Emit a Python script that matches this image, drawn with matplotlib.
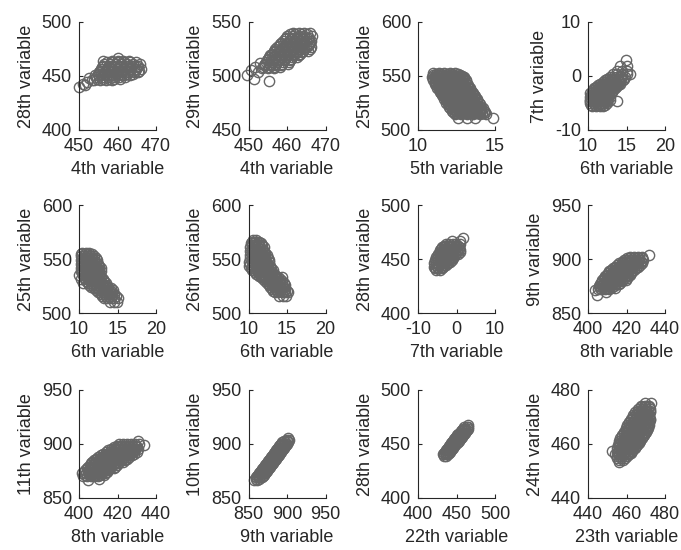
import matplotlib
matplotlib.use("Agg")
import matplotlib.pyplot as plt

plt.rcParams['font.family'] = ['Liberation Sans', 'DejaVu Sans']
plt.rcParams['axes.unicode_minus'] = False

# ---- data: each entry is (y value, [x values]) ----
# 1: 4th vs 28th
rows1 = [(440, [450]), (441.5, [451.5]), (443, [451]), (444.8, [452.2]),
         (446.3, [453.4]), (448, [452.5]),
         (446, [454, 455.5, 457, 458.5]),
         (447.5, [454.7, 456.2, 457.7, 459.2, 460.7]),
         (449, [454.5, 456, 457.5, 459, 460.5, 462]),
         (450.5, [454.2, 455.7, 457.2, 458.7, 460.2, 461.7, 463.2]),
         (452, [455, 456.5, 458, 459.5, 461, 462.5, 464]),
         (453.5, [455.2, 456.7, 458.2, 459.7, 461.2, 462.7, 464.2, 465.2]),
         (455, [455.5, 457, 458.5, 460, 461.5, 463, 464.5, 465.5]),
         (456.5, [455.7, 457.2, 458.7, 460.2, 461.7, 463.2, 464.7, 466]),
         (458, [456, 457.5, 459, 460.5, 462, 463.5, 465]),
         (459.5, [456.2, 457.7, 459.2, 460.7, 462.2, 463.7, 465.2]),
         (461, [456.5, 458, 459.5, 461, 462.5, 464, 465.9]),
         (462.5, [457.2, 458.7, 460.2, 461.7, 463.2, 464.7]),
         (464, [456.2, 458.5, 460, 461.5, 463]),
         (467, [460.2])]
# 2: 4th vs 29th
rows2 = [(495, [455.3]), (497, [451.5]), (501, [449.5]), (504, [452.5]),
         (505.5, [450.6]), (508.6, [451.8]), (512, [453]),
         (507, [453.5, 455, 456.5]),
         (508.5, [453.7, 455.2, 456.7, 458.2]),
         (510, [454, 455.5, 457, 458.5]),
         (511.5, [454.2, 455.7, 457.2, 458.7, 460.2]),
         (513, [454.5, 456, 457.5, 459, 460.5]),
         (514.5, [454.7, 456.2, 457.7, 459.2, 460.7]),
         (516, [455, 456.5, 458, 459.5, 461]),
         (517.5, [455.2, 456.7, 458.2, 459.7, 461.2, 462.5]),
         (519, [455.5, 457, 458.5, 460, 461.5, 463]),
         (520.5, [456, 457.5, 459, 460.5, 462, 463.5]),
         (522, [456.5, 458, 459.5, 461, 462.5, 464]),
         (523.5, [456.7, 458.2, 459.7, 461.2, 462.7, 464.2, 465.5]),
         (525, [457, 458.5, 460, 461.5, 463, 464.5, 466]),
         (526.5, [457.5, 459, 460.5, 462, 463.5, 465, 466.2]),
         (528, [458, 459.5, 461, 462.5, 464, 465.5]),
         (529.5, [458.2, 459.7, 461.2, 462.7, 464.2, 465.7]),
         (531, [458.5, 460, 461.5, 463, 464.5, 466]),
         (532.5, [459, 460.5, 462, 463.5, 465, 466.3]),
         (534, [459.5, 461, 462.5, 464, 465.5]),
         (535.5, [459.7, 461.2, 462.7, 464.2, 465.7]),
         (537, [460, 461.5, 463, 464.5, 466.5]),
         (538.5, [460.7, 462.2, 463.7, 465.2]),
         (540, [461.5, 463, 464.5, 466])]
# 3: 5th vs 25th
rows3 = [(553, [11.0, 11.35, 11.7, 12.05, 12.4]),
         (551.2, [10.95, 11.3, 11.65, 12.0, 12.35, 12.7]),
         (549.5, [10.9, 11.25, 11.6, 11.95, 12.3, 12.65, 13.0]),
         (547.7, [11.1, 11.45, 11.8, 12.15, 12.5, 12.85]),
         (546, [11.0, 11.35, 11.7, 12.05, 12.4, 12.75, 13.1]),
         (544.2, [11.2, 11.55, 11.9, 12.25, 12.6, 12.95]),
         (542.5, [11.1, 11.45, 11.8, 12.15, 12.5, 12.85, 13.2]),
         (540.7, [11.3, 11.65, 12.0, 12.35, 12.7, 13.05]),
         (539, [11.25, 11.6, 11.95, 12.3, 12.65, 13.0, 13.35]),
         (537.2, [11.45, 11.8, 12.15, 12.5, 12.85, 13.2]),
         (535.5, [11.4, 11.75, 12.1, 12.45, 12.8, 13.15, 13.5]),
         (533.7, [11.6, 11.95, 12.3, 12.65, 13.0, 13.35]),
         (532, [11.55, 11.9, 12.25, 12.6, 12.95, 13.3, 13.65]),
         (530.2, [11.75, 12.1, 12.45, 12.8, 13.15, 13.5]),
         (528.5, [11.7, 12.05, 12.4, 12.75, 13.1, 13.45, 13.8]),
         (526.7, [11.9, 12.25, 12.6, 12.95, 13.3, 13.65]),
         (525, [11.85, 12.2, 12.55, 12.9, 13.25, 13.6, 13.95]),
         (523.2, [12.05, 12.4, 12.75, 13.1, 13.45, 13.8]),
         (521.5, [12.0, 12.35, 12.7, 13.05, 13.4, 13.75, 14.1]),
         (519.7, [12.25, 12.6, 12.95, 13.3, 13.65, 14.0]),
         (518, [12.2, 12.55, 12.9, 13.25, 13.6, 13.95, 14.3]),
         (516.2, [12.4, 12.75, 13.1, 13.45, 13.8, 14.15]),
         (514.5, [12.4, 12.8, 13.2, 13.6, 14.0, 14.4]),
         (511, [12.6, 13.2, 13.7, 14.85]),
         (552.1, [11.17, 11.52, 11.87, 12.22, 12.57]),
         (550.4, [11.12, 11.47, 11.82, 12.17, 12.52, 12.85]),
         (548.6, [11.0, 11.35, 11.7, 12.05, 12.4, 12.75, 13.0]),
         (546.9, [11.17, 11.52, 11.87, 12.22, 12.57, 12.92]),
         (545.1, [11.1, 11.45, 11.8, 12.15, 12.5, 12.85, 13.1]),
         (543.4, [11.27, 11.62, 11.97, 12.32, 12.67, 13.02]),
         (541.6, [11.2, 11.55, 11.9, 12.25, 12.6, 12.95, 13.25]),
         (539.9, [11.42, 11.77, 12.12, 12.47, 12.82, 13.17]),
         (538.1, [11.35, 11.7, 12.05, 12.4, 12.75, 13.1, 13.4]),
         (536.4, [11.57, 11.92, 12.27, 12.62, 12.97, 13.32]),
         (534.6, [11.5, 11.85, 12.2, 12.55, 12.9, 13.25, 13.55]),
         (532.9, [11.72, 12.07, 12.42, 12.77, 13.12, 13.47]),
         (531.1, [11.65, 12.0, 12.35, 12.7, 13.05, 13.4, 13.7]),
         (529.4, [11.87, 12.22, 12.57, 12.92, 13.27, 13.62]),
         (527.6, [11.8, 12.15, 12.5, 12.85, 13.2, 13.55, 13.85]),
         (525.9, [12.02, 12.37, 12.72, 13.07, 13.42, 13.77]),
         (524.1, [11.95, 12.3, 12.65, 13.0, 13.35, 13.7, 14.0]),
         (522.4, [12.17, 12.52, 12.87, 13.22, 13.57, 13.92]),
         (520.6, [12.1, 12.45, 12.8, 13.15, 13.5, 13.85, 14.2]),
         (518.9, [12.37, 12.72, 13.07, 13.42, 13.77, 14.12]),
         (517.1, [12.3, 12.65, 13.0, 13.35, 13.7, 14.05, 14.35]),
         (515.4, [12.55, 12.9, 13.25, 13.6, 13.95, 14.3])]
# 4: 6th vs 7th
rows4 = [(-5.6, [10.5, 11.0, 11.5, 12.0]),
         (-5.3, [10.4, 10.85, 11.3, 11.75, 12.2]),
         (-5.0, [10.3, 10.75, 11.2, 11.65, 12.1, 12.5]),
         (-4.7, [10.25, 10.7, 11.15, 11.6, 12.05, 12.5]),
         (-4.4, [10.2, 10.65, 11.1, 11.55, 12.0, 12.45, 12.9]),
         (-4.1, [10.4, 10.85, 11.3, 11.75, 12.2, 12.65]),
         (-3.8, [10.2, 10.65, 11.1, 11.55, 12.0, 12.45, 12.9]),
         (-3.5, [10.4, 10.85, 11.3, 11.75, 12.2, 12.7]),
         (-3.2, [10.3, 10.75, 11.2, 11.65, 12.1, 12.55, 13.0]),
         (-2.9, [10.5, 10.95, 11.4, 11.85, 12.3, 12.75, 13.15]),
         (-2.6, [10.6, 11.05, 11.5, 11.95, 12.4, 12.85, 13.3]),
         (-2.3, [10.8, 11.25, 11.7, 12.15, 12.6, 13.05, 13.5]),
         (-2.0, [11.0, 11.45, 11.9, 12.35, 12.8, 13.25, 13.7]),
         (-1.7, [11.25, 11.7, 12.15, 12.6, 13.05, 13.5, 13.95]),
         (-1.4, [11.5, 11.95, 12.4, 12.85, 13.3, 13.75, 14.2]),
         (-1.1, [11.9, 12.35, 12.8, 13.25, 13.7, 14.2]),
         (-0.8, [12.2, 12.65, 13.1, 13.55, 14.0, 14.5]),
         (-0.5, [12.5, 12.95, 13.4, 13.85, 14.3, 14.7]),
         (-0.2, [12.8, 13.3, 13.8, 14.3, 14.8]),
         (0.4, [13.2, 13.8, 14.4, 15.0, 15.4]),
         (1.0, [13.8, 14.4, 15.0]),
         (1.8, [14.2, 15.0]),
         (3.0, [14.9]),
         (-4.6, [13.8])]
# 5: 6th vs 25th
rows5 = [(556, [10.4, 10.85, 11.3]),
         (554.2, [10.3, 10.75, 11.2, 11.65]),
         (552.5, [10.2, 10.65, 11.1, 11.55, 12.0]),
         (550.7, [10.4, 10.85, 11.3, 11.75, 12.2]),
         (549, [10.2, 10.65, 11.1, 11.55, 12.0, 12.4]),
         (547.2, [10.4, 10.85, 11.3, 11.75, 12.2]),
         (545.5, [10.2, 10.65, 11.1, 11.55, 12.0, 12.45]),
         (543.7, [10.4, 10.85, 11.3, 11.75, 12.2, 12.65]),
         (542, [10.2, 10.65, 11.1, 11.55, 12.0, 12.45, 12.9]),
         (540.2, [10.4, 10.85, 11.3, 11.75, 12.2, 12.65]),
         (538.5, [10.2, 10.65, 11.1, 11.55, 12.0, 12.45, 12.9]),
         (536.7, [10.4, 10.85, 11.3, 11.75, 12.2, 12.65]),
         (535, [10.0, 10.5, 10.95, 11.4, 11.85, 12.3, 12.75]),
         (533.2, [10.6, 11.05, 11.5, 11.95, 12.4, 12.85]),
         (531.5, [10.3, 10.8, 11.25, 11.7, 12.15, 12.6, 13.1]),
         (529.7, [10.9, 11.4, 11.85, 12.3, 12.75, 13.3]),
         (528, [10.5, 11.2, 11.65, 12.1, 12.55, 13.0, 13.5]),
         (526.2, [11.3, 11.75, 12.2, 12.65, 13.1, 13.55]),
         (524.5, [11.5, 11.95, 12.4, 12.85, 13.3, 13.75]),
         (522.7, [11.9, 12.35, 12.8, 13.25, 13.7, 14.1]),
         (521, [12.2, 12.65, 13.1, 13.55, 14.0, 14.4]),
         (519.2, [12.5, 12.95, 13.4, 13.85, 14.3]),
         (517.5, [12.8, 13.25, 13.7, 14.15, 14.6]),
         (515.7, [13.0, 13.45, 13.9, 14.35, 14.8]),
         (514, [13.2, 13.65, 14.1, 14.55, 15.0]),
         (510.5, [14.0, 14.5, 14.9])]
# 6: 6th vs 26th
rows6 = [(568, [10.6, 11.0]),
         (566.2, [10.45, 10.9, 11.35]),
         (564.5, [10.3, 10.75, 11.2, 11.6]),
         (562.7, [10.4, 10.85, 11.3, 11.75]),
         (561, [10.2, 10.65, 11.1, 11.55, 12.0]),
         (559.2, [10.4, 10.85, 11.3, 11.75]),
         (557.5, [10.2, 10.65, 11.1, 11.55, 12.0]),
         (555.7, [10.4, 10.85, 11.3, 11.75, 12.2]),
         (554, [10.2, 10.65, 11.1, 11.55, 12.0, 12.4]),
         (552.2, [10.4, 10.85, 11.3, 11.75, 12.2]),
         (550.5, [10.2, 10.65, 11.1, 11.55, 12.0, 12.5]),
         (548.7, [10.4, 10.85, 11.3, 11.75, 12.2, 12.6]),
         (547, [10.0, 10.5, 10.95, 11.4, 11.85, 12.3, 12.7]),
         (545.2, [10.25, 10.7, 11.15, 11.6, 12.05, 12.5]),
         (543.5, [10.0, 10.5, 10.95, 11.4, 11.85, 12.3, 12.75]),
         (541.7, [10.3, 10.75, 11.2, 11.65, 12.1, 12.55, 12.95]),
         (540, [10.5, 10.95, 11.4, 11.85, 12.3, 12.75, 13.2]),
         (538.2, [10.8, 11.25, 11.7, 12.15, 12.6, 13.05]),
         (536.5, [11.0, 11.45, 11.9, 12.35, 12.8, 13.25]),
         (534.7, [11.3, 11.75, 12.2, 12.65, 13.1, 13.55]),
         (533, [11.6, 12.05, 12.5, 12.95, 13.4, 13.85, 14.4]),
         (531.2, [11.85, 12.3, 12.75, 13.2, 13.65, 14.1]),
         (529.5, [12.1, 12.55, 13.0, 13.45, 13.9, 14.35]),
         (527.7, [12.35, 12.8, 13.25, 13.7, 14.15, 14.6]),
         (526, [12.6, 13.05, 13.5, 13.95, 14.4, 14.8]),
         (524.2, [12.8, 13.25, 13.7, 14.15, 14.6]),
         (522.5, [13.0, 13.45, 13.9, 14.35, 14.8]),
         (520.7, [13.2, 13.65, 14.1, 14.55, 15.0]),
         (519, [13.4, 13.85, 14.3, 14.75, 15.1]),
         (515.5, [14.0, 14.5, 14.9])]
# 7: 7th vs 28th
rows7 = [(440, [-5.3, -4.4]),
         (441.5, [-5.6, -4.7, -3.8]),
         (443, [-5.9, -5.0, -4.1, -3.4]),
         (444.5, [-5.4, -4.5, -3.6, -2.8]),
         (446, [-5.8, -4.9, -4.0, -3.1, -2.3]),
         (447.5, [-5.3, -4.4, -3.5, -2.6, -1.8]),
         (449, [-5.6, -4.7, -3.8, -2.9, -2.0, -1.2]),
         (450.5, [-5.1, -4.2, -3.3, -2.4, -1.5, -0.8]),
         (452, [-5.3, -4.4, -3.5, -2.6, -1.7, -0.8]),
         (453.5, [-4.8, -3.9, -3.0, -2.1, -1.2, -0.3]),
         (455, [-4.9, -4.0, -3.1, -2.2, -1.3, -0.4, 0.5]),
         (456.5, [-4.4, -3.5, -2.6, -1.7, -0.8, 0.1, 0.8]),
         (458, [-4.4, -3.5, -2.6, -1.7, -0.8, 0.1, 1.0]),
         (459.5, [-3.9, -3.0, -2.1, -1.2, -0.3, 0.6]),
         (461, [-3.8, -2.9, -2.0, -1.1, -0.2, 0.7]),
         (462.5, [-3.2, -2.3, -1.4, -0.5, 0.4]),
         (464, [-2.8, -1.9, -1.0, -0.1, 0.8]),
         (467, [-1.2, 1.0]),
         (469.5, [1.8])]
# 8: 8th vs 9th
rows8 = [(867, [404.7]), (869, [409.4]), (871, [403.5]),
         (872, [405, 407, 409, 411]),
         (873.5, [406, 408, 410, 412, 414]),
         (875, [405.5, 407.5, 409.5, 411.5, 413.5]),
         (876.5, [406, 408, 410, 412, 414, 416]),
         (878, [406.5, 408.5, 410.5, 412.5, 414.5, 416.5]),
         (879.5, [407.5, 409.5, 411.5, 413.5, 415.5, 417.5]),
         (881, [407.5, 409.5, 411.5, 413.5, 415.5, 417.5, 419.5]),
         (882.5, [408.5, 410.5, 412.5, 414.5, 416.5, 418.5, 420.5]),
         (884, [409, 411, 413, 415, 417, 419, 421]),
         (885.5, [410, 412, 414, 416, 418, 420, 422]),
         (887, [410.5, 412.5, 414.5, 416.5, 418.5, 420.5, 422.5]),
         (888.5, [411, 413, 415, 417, 419, 421, 423]),
         (890, [412, 414, 416, 418, 420, 422, 424]),
         (891.5, [413, 415, 417, 419, 421, 423, 425]),
         (893, [414, 416, 418, 420, 422, 424, 426]),
         (894.5, [415, 417, 419, 421, 423, 425, 427]),
         (896, [416, 418, 420, 422, 424, 426, 428]),
         (897.5, [417.5, 419.5, 421.5, 423.5, 425.5, 427.5]),
         (899, [418.5, 420.5, 422.5, 424.5, 426.5, 428.5]),
         (900.5, [420, 422, 424, 426, 428]),
         (902, [422, 424, 426, 428]),
         (904, [431.8])]
# 9: 8th vs 11th
rows9 = [(867, [404.7]), (868, [410.6]),
         (870, [402, 404, 406, 408, 410]),
         (871.5, [403, 405, 407, 409, 411, 413]),
         (873, [401.5, 403.5, 405.5, 407.5, 409.5, 411.5, 413.5]),
         (874.5, [402.5, 404.5, 406.5, 408.5, 410.5, 412.5, 414.5]),
         (876, [403, 405, 407, 409, 411, 413, 415]),
         (877.5, [404, 406, 408, 410, 412, 414, 416, 418]),
         (879, [404.5, 406.5, 408.5, 410.5, 412.5, 414.5, 416.5, 418.5]),
         (880.5, [405.5, 407.5, 409.5, 411.5, 413.5, 415.5, 417.5, 419.5]),
         (882, [406, 408, 410, 412, 414, 416, 418, 420]),
         (883.5, [407, 409, 411, 413, 415, 417, 419, 421, 423]),
         (885, [408, 410, 412, 414, 416, 418, 420, 422, 424]),
         (886.5, [409, 411, 413, 415, 417, 419, 421, 423, 425]),
         (888, [410, 412, 414, 416, 418, 420, 422, 424, 426]),
         (889.5, [411.5, 413.5, 415.5, 417.5, 419.5, 421.5, 423.5, 425.5, 427.5]),
         (891, [412.5, 414.5, 416.5, 418.5, 420.5, 422.5, 424.5, 426.5, 428.5]),
         (892.5, [414, 416, 418, 420, 422, 424, 426, 428, 430]),
         (894, [415, 417, 419, 421, 423, 425, 427, 429]),
         (895.5, [416.5, 418.5, 420.5, 422.5, 424.5, 426.5, 428.5, 430.5]),
         (897, [418, 420, 422, 424, 426, 428, 430]),
         (898.5, [419.5, 421.5, 423.5, 425.5, 427.5, 429.5]),
         (900, [421, 423, 425, 427, 429, 431]),
         (899, [434]), (903, [430.6])]
# 10: 9th vs 10th
rows10 = [(867, [857.5, 861.5]),
          (869, [859.5, 863.5, 867]),
          (871.5, [862, 866, 870]),
          (874, [864.8, 868.8, 872.8]),
          (876.5, [867.4, 871.4, 875.4]),
          (879, [870, 874, 878]),
          (881.5, [872.7, 876.7, 880.7]),
          (884, [875.3, 879.3, 883.3]),
          (886.5, [877.9, 881.9, 885.9]),
          (889, [880.5, 884.5, 888.5]),
          (891.5, [883.2, 887.2, 891.2]),
          (894, [885.8, 889.8, 893.8]),
          (896.5, [888.4, 892.4, 896.4]),
          (899, [891.1, 895.1, 899]),
          (901.5, [894, 897.7, 901]),
          (904, [899.5, 902.5]),
          (905.3, [901.7]),
          (868, [859.5, 863.5]),
          (870.2, [861, 865, 868.5]),
          (872.7, [863.5, 867.5, 871.5]),
          (875.2, [866, 870, 874]),
          (877.7, [868.7, 872.7, 876.7]),
          (880.2, [871.3, 875.3, 879.3]),
          (882.7, [874, 878, 882]),
          (885.2, [876.6, 880.6, 884.6]),
          (887.7, [879.2, 883.2, 887.2]),
          (890.2, [881.8, 885.8, 889.8]),
          (892.7, [884.5, 888.5, 892.5]),
          (895.2, [887.1, 891.1, 895.1]),
          (897.7, [889.7, 893.7, 897.7]),
          (900.2, [892.5, 896.5, 900]),
          (902.7, [896, 900])]
# 11: 22th vs 28th
rows11 = [(438.5, [433.5, 437]),
          (440.5, [432.5, 436, 439.5]),
          (443, [435, 438.5, 442]),
          (445.5, [437.7, 441.2, 444.7]),
          (448, [440.4, 443.9, 447.4]),
          (450.5, [443.1, 446.6, 450.1]),
          (453, [445.8, 449.3, 452.8]),
          (455.5, [448.5, 452, 455.5]),
          (458, [451.2, 454.7, 458.2]),
          (460.5, [453.9, 457.4, 460.9]),
          (463, [456.6, 460.1, 463.6]),
          (465.5, [460, 463, 465.5]),
          (467.5, [464.5]),
          (441.7, [433.7, 437.2, 440.7]),
          (444.2, [436.3, 439.8, 443.3]),
          (446.7, [439, 442.5, 446]),
          (449.2, [441.7, 445.2, 448.7]),
          (451.7, [444.4, 447.9, 451.4]),
          (454.2, [447.1, 450.6, 454.1]),
          (456.7, [449.8, 453.3, 456.8]),
          (459.2, [452.5, 456, 459.5]),
          (461.7, [455.2, 458.7, 462.2]),
          (464.2, [458.3, 461.5, 464.5])]
# 12: 23th vs 24th
rows12 = [(453.4, [456]),
          (455, [455, 457, 459]),
          (456.2, [454, 456, 458, 460, 461.5]),
          (457.4, [452.7, 455.5, 457.5, 459.5, 461.5, 463]),
          (458.6, [455, 457, 459, 461, 463, 464.5]),
          (459.8, [455.5, 457.5, 459.5, 461.5, 463.5, 465.5]),
          (461, [456, 458, 460, 462, 464, 466, 467]),
          (462.2, [456.5, 458.5, 460.5, 462.5, 464.5, 466.5, 468]),
          (463.4, [457.5, 459.5, 461.5, 463.5, 465.5, 467.5, 469]),
          (464.6, [458.5, 460.5, 462.5, 464.5, 466.5, 468.5, 470]),
          (465.8, [459.5, 461.5, 463.5, 465.5, 467.5, 469.5, 471]),
          (467, [460.5, 462.5, 464.5, 466.5, 468.5, 470.5, 471.5]),
          (468.2, [461.5, 463.5, 465.5, 467.5, 469.5, 471.5]),
          (469.4, [462.5, 464.5, 466.5, 468.5, 470.5, 472]),
          (470.6, [463.5, 465.5, 467.5, 469.5, 471.5]),
          (471.8, [464.5, 466.5, 468.5, 470.5, 472.3]),
          (473, [466, 468, 470, 472]),
          (474.2, [467.5, 469.5, 471.5]),
          (475.2, [469.5, 472.6]),
          (454.2, [456, 458]),
          (455.6, [455, 457, 459, 460.5]),
          (456.8, [455, 457, 459, 461, 462.5]),
          (458, [456, 458, 460, 462, 463.5]),
          (459.2, [456, 458, 460, 462, 464, 465]),
          (460.4, [456.5, 458.5, 460.5, 462.5, 464.5, 466.5]),
          (461.6, [457, 459, 461, 463, 465, 467]),
          (462.8, [457.5, 459.5, 461.5, 463.5, 465.5, 467.5, 468.5]),
          (464, [458.5, 460.5, 462.5, 464.5, 466.5, 468.5, 469.5]),
          (465.2, [459.5, 461.5, 463.5, 465.5, 467.5, 469.5, 470.5]),
          (466.4, [460.5, 462.5, 464.5, 466.5, 468.5, 470.5]),
          (467.6, [461.5, 463.5, 465.5, 467.5, 469.5, 471]),
          (468.8, [462.5, 464.5, 466.5, 468.5, 470.5, 472]),
          (470, [463.5, 465.5, 467.5, 469.5, 471.5]),
          (471.2, [465, 467, 469, 471]),
          (472.4, [466, 468, 470, 472]),
          (473.6, [467.5, 469.5, 471.5])]

all_rows = [rows1, rows2, rows3, rows4, rows5, rows6, rows7, rows8, rows9,
            rows10, rows11, rows12]
xlabels = ['4th variable', '4th variable', '5th variable', '6th variable',
           '6th variable', '6th variable', '7th variable', '8th variable',
           '8th variable', '9th variable', '22th variable', '23th variable']
ylabels = ['28th variable', '29th variable', '25th variable', '7th variable',
           '25th variable', '26th variable', '28th variable', '9th variable',
           '11th variable', '10th variable', '28th variable', '24th variable']
xticks = [[450, 460, 470], [450, 460, 470], [10, 15], [10, 15, 20],
          [10, 15, 20], [10, 15, 20], [-10, 0, 10], [400, 420, 440],
          [400, 420, 440], [850, 900, 950], [400, 450, 500], [440, 460, 480]]
yticks = [[400, 450, 500], [450, 500, 550], [500, 550, 600], [-10, 0, 10],
          [500, 550, 600], [500, 550, 600], [400, 450, 500], [850, 900, 950],
          [850, 900, 950], [850, 900, 950], [400, 450, 500], [440, 460, 480]]

# ---- figure ----
W, H = 681, 550
fig = plt.figure(figsize=(W / 100, H / 100), dpi=100)
col_left = [79, 248.5, 418, 588]
row_top = [22, 205, 390]
ax_w, ax_h = 77, 108
txt = '#262626'
mcol = '#666666'

for i in range(12):
    r, c = divmod(i, 4)
    px = [x for yv, xv in all_rows[i] for x in xv]
    py = [yv for yv, xv in all_rows[i] for x in xv]
    left = col_left[c] / W
    bottom = 1 - (row_top[r] + ax_h) / H
    ax = fig.add_axes([left, bottom, ax_w / W, ax_h / H])
    ax.plot(px, py, 'o', mfc='none', mec=mcol, ms=7.4, mew=1.0,
            clip_on=False)
    xt, yt = xticks[i], yticks[i]
    ax.set_xlim(xt[0], xt[-1])
    ax.set_ylim(yt[0], yt[-1])
    ax.set_xticks(xt)
    ax.set_yticks(yt)
    for s in ['top', 'right']:
        ax.spines[s].set_visible(False)
    for s in ['left', 'bottom']:
        ax.spines[s].set_color(txt)
        ax.spines[s].set_linewidth(0.8)
    ax.tick_params(direction='in', length=3, width=0.8, colors=txt,
                   labelsize=13)
    ax.tick_params(axis='x', pad=6)
    ax.tick_params(axis='y', pad=5)
    ax.set_xlabel(xlabels[i], fontsize=13, color=txt, labelpad=4)
    ax.set_ylabel(ylabels[i], fontsize=13, color=txt, labelpad=5)

fig.savefig('out.png', dpi=100)
